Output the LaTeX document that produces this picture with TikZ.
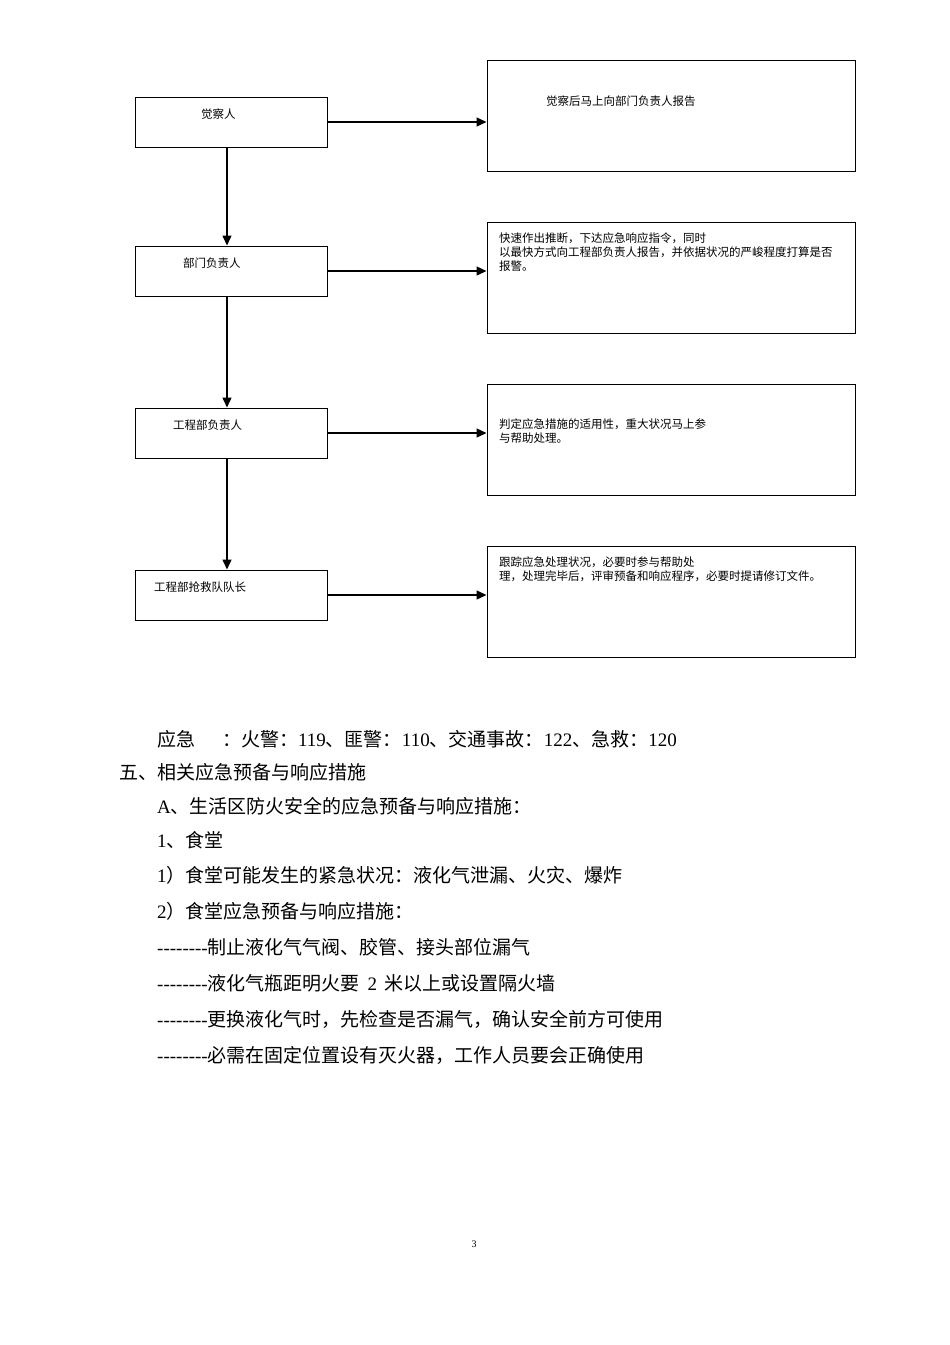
\documentclass[tikz,border=0pt]{standalone}
\usepackage{fontspec}
\setmainfont{Liberation Serif}
\newfontfamily\cjk{Noto Sans CJK SC}
\usetikzlibrary{arrows.meta}
\newcommand\dashrun{-{}-{}-{}-{}-{}-{}-{}-}

\begin{document}
\begin{tikzpicture}[x=1pt, y=-1pt, every node/.style={inner sep=0pt},
  rolebox/.style={draw, line width=1pt, minimum width=192pt, minimum height=50pt},
  actbox/.style={draw, line width=1pt, minimum width=368pt, minimum height=111pt},
  boxtext/.style={align=left, font=\fontsize{11.5}{14}\selectfont\cjk},
  bodytext/.style={anchor=west, font=\fontsize{19}{22}\selectfont},
  flow/.style={line width=1.4pt, -{Triangle[length=10pt,width=9pt]}}]
	% Page
	\useasboundingbox (0,0) rectangle (950,1345);

	% Roles
	\node[rolebox] (obs) at (231,122) {};
	\node[rolebox] (dept) at (231,271) {};
	\node[rolebox] (proj) at (231,433) {};
	\node[rolebox] (rescue) at (231,595) {};
	\node[boxtext, anchor=west] (obstext) at (201,114) {觉察人};
	\node[boxtext, anchor=west] (depttext) at (183,263) {部门负责人};
	\node[boxtext, anchor=west] (projtext) at (173,425) {工程部负责人};
	\node[boxtext, anchor=west] (rescuetext) at (154,587) {工程部抢救队队长};

	% Actions
	\node[actbox] (act1) at (671,115.5) {};
	\node[actbox] (act2) at (671,277.5) {};
	\node[actbox] (act3) at (671,439.5) {};
	\node[actbox] (act4) at (671,601.5) {};
	\node[boxtext, anchor=west] (act1text) at (546,101) {觉察后马上向部门负责人报告};
	\node[boxtext, anchor=north west] (act2text) at (499,232.3) {快速作出推断，下达应急响应指令，同时\\以最快方式向工程部负责人报告，并依据状况的严峻程度打算是否\\报警。};
	\node[boxtext, anchor=north west] (act3text) at (499,418.3) {判定应急措施的适用性，重大状况马上参\\与帮助处理。};
	\node[boxtext, anchor=north west] (act4text) at (499,556.3) {跟踪应急处理状况，必要时参与帮助处\\理，处理完毕后，评审预备和响应程序，必要时提请修订文件。};

	% Connectors
	\draw[flow] ([xshift=-4pt]obs.south) -- ([xshift=-4pt]dept.north);
	\draw[flow] ([xshift=-4pt]dept.south) -- ([xshift=-4pt]proj.north);
	\draw[flow] ([xshift=-4pt]proj.south) -- ([xshift=-4pt]rescue.north);
	\draw[flow] (obs.east) -- (obs.east -| act1.west);
	\draw[flow] (dept.east) -- (dept.east -| act2.west);
	\draw[flow] (proj.east) -- (proj.east -| act3.west);
	\draw[flow] (rescue.east) -- (rescue.east -| act4.west);

	% Body text
	\node[bodytext] (phones) at (157,739) {{\cjk 应急}\hspace{27pt}{\cjk ：火警：}119{\cjk 、匪警：}110{\cjk 、交通事故：}122{\cjk 、急救：}120};
	\node[bodytext] (sec5) at (119,772) {\cjk 五、相关应急预备与响应措施};
	\node[bodytext] (secA) at (157,806) {A{\cjk 、生活区防火安全的应急预备与响应措施：}};
	\node[bodytext] (item1) at (157,840) {1{\cjk 、食堂}};
	\node[bodytext] (item11) at (157,875) {1{\cjk ）食堂可能发生的紧急状况：液化气泄漏、火灾、爆炸}};
	\node[bodytext] (item12) at (157,911) {2{\cjk ）食堂应急预备与响应措施：}};
	\node[bodytext] (rule1) at (157,947) {\dashrun{\cjk 制止液化气气阀、胶管、接头部位漏气}};
	\node[bodytext] (rule2) at (157,983) {\dashrun{\cjk 液化气瓶距明火要}\hspace{3pt} 2 \hspace{3pt}{\cjk 米以上或设置隔火墙}};
	\node[bodytext] (rule3) at (157,1019) {\dashrun{\cjk 更换液化气时，先检查是否漏气，确认安全前方可使用}};
	\node[bodytext] (rule4) at (157,1055) {\dashrun{\cjk 必需在固定位置设有灭火器，工作人员要会正确使用}};

	% Page number
	\node[font=\fontsize{10}{12}\selectfont] (pageno) at (474,1244) {3};
\end{tikzpicture}
\end{document}
